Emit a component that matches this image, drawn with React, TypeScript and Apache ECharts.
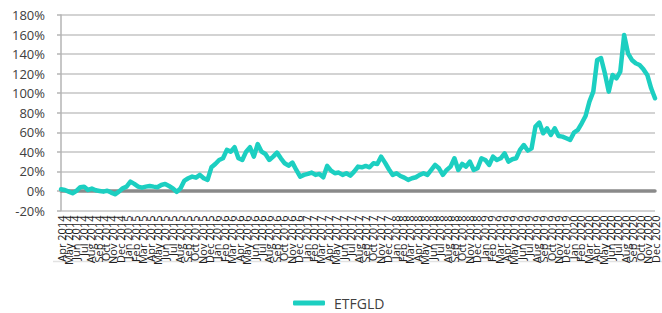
import React, { useEffect, useRef } from "react";
import * as echarts from "echarts";

// Tick labels (monthly, Apr 2014 .. Dec 2020)
const MONTHS = ["Jan", "Feb", "Mar", "Apr", "May", "Jun", "Jul", "Aug", "Sep", "Oct", "Nov", "Dec"];
const START_YEAR = 2014;
const START_MONTH = 3; // Apr
const END_YEAR = 2020;
const END_MONTH = 11; // Dec

const monthLabels: string[] = [];
for (let y = START_YEAR; y <= END_YEAR; y++) {
  const m0 = y === START_YEAR ? START_MONTH : 0;
  const m1 = y === END_YEAR ? END_MONTH : 11;
  for (let m = m0; m <= m1; m++) monthLabels.push(`${MONTHS[m]} ${y}`);
}

// Y ticks
const Y_MIN = -20;
const Y_MAX = 180;
const Y_STEP = 20;

// ETFGLD cumulative return (%), evenly spaced in time
const etfgld = [
  1.7, 1, -0.7, -2.4, 0, 3.8, 4.4, 1, 2.4, 0.7,
  0, -0.7, 0.3, -1.7, -3.4, -0.7, 2.7, 4.4, 9.5, 7.2,
  4.4, 3.4, 4.4, 5.1, 4.4, 3.8, 6.1, 7.2, 5.1, 2.7,
  -1, 2.7, 10.6, 13, 14.7, 13.6, 16.4, 13, 11.3, 24.2,
  27.6, 31.7, 33.4, 42, 40.2, 44.7, 33.4, 31.7, 40.2, 44.7,
  35.1, 48, 40.2, 37.8, 31.7, 35.1, 39.2, 33.4, 28.3, 25.9,
  29, 21.5, 14.7, 16.4, 17.4, 18.8, 16.4, 17.4, 14, 25.6,
  20.8, 18.1, 18.8, 16.4, 18.1, 15.7, 19.8, 24.9, 24.2, 25.6,
  24.2, 28.3, 27.6, 35.1, 29, 22.2, 16.4, 18.1, 15.3, 13.6,
  11.3, 13, 14, 16.4, 18.1, 16.4, 21.5, 26.6, 23.2, 16.4,
  21.5, 24.9, 33.4, 21.5, 27.6, 24.9, 30, 21.5, 23.2, 33.4,
  31.7, 26.6, 35.1, 31.7, 33.4, 38.5, 30, 32.4, 33.4, 42,
  47, 41.3, 43.6, 65.8, 69.9, 59, 64.1, 57.3, 64.1, 56.3,
  55.6, 53.9, 52.2, 59.7, 62.4, 69.2, 76.7, 91.4, 101.6, 134,
  136, 120.4, 101.6, 118.7, 115.2, 122.1, 159.6, 140.8, 134, 130.6,
  128.9, 124.4, 118.7, 105, 94.8,
];
const pointIndex = etfgld.map((_, i) => String(i));

export default function App() {
  const ref = useRef<HTMLDivElement>(null);
  useEffect(() => {
    document.body.style.margin = "0";
    const chart = echarts.init(ref.current!, null, { renderer: "svg" });
    chart.setOption({
      animation: false,
      backgroundColor: "#ffffff",
      grid: { left: 61, right: 7, top: 15, bottom: 102.5, containLabel: false },
      legend: {
        data: ["ETFGLD"],
        left: 288,
        top: 291,
        icon: "roundRect",
        itemWidth: 32,
        itemHeight: 5,
        itemGap: 10,
        textStyle: { fontFamily: "Open Sans", fontSize: 14, color: "#404040", padding: [0, 0, 0, 4] },
      },
      graphic: [
        {
          type: "line",
          shape: { x1: 53, y1: 261.5, x2: 662, y2: 261.5 },
          style: { stroke: "#e2e2e2", lineWidth: 1.5 },
          silent: true,
        },
      ],
      xAxis: [
        {
          type: "category",
          data: monthLabels,
          boundaryGap: false,
          axisLine: { show: true, onZero: true, lineStyle: { color: "#8a8a8a", width: 3.5 } },
          axisTick: { show: false },
          splitLine: { show: false },
          axisLabel: {
            interval: 0,
            rotate: 90,
            margin: 5,
            fontFamily: "Open Sans",
            fontSize: 11,
            color: "#222222",
          },
        },
        {
          type: "category",
          data: pointIndex,
          boundaryGap: false,
          show: false,
        },
      ],
      yAxis: {
        type: "value",
        min: Y_MIN,
        max: Y_MAX,
        interval: Y_STEP,
        axisLine: { show: true, lineStyle: { color: "#b5b5b5", width: 1.5 } },
        axisTick: { show: true, length: 4, lineStyle: { color: "#b5b5b5", width: 1.5 } },
        splitLine: { show: true, lineStyle: { color: "#c4c4c4", width: 1.5 } },
        axisLabel: {
          margin: 16,
          fontFamily: "Open Sans",
          fontSize: 13,
          color: "#404040",
          formatter: (v: number) => `${v}%`,
        },
      },
      series: [
        {
          name: "ETFGLD",
          type: "line",
          xAxisIndex: 1,
          data: etfgld,
          showSymbol: false,
          symbol: "none",
          smooth: false,
          lineStyle: { color: "#1ccfc1", width: 4.5, join: "round", cap: "round" },
          itemStyle: { color: "#1ccfc1" },
        },
      ],
    });
    return () => chart.dispose();
  }, []);
  return <div ref={ref} style={{ width: 662, height: 313 }} />;
}
